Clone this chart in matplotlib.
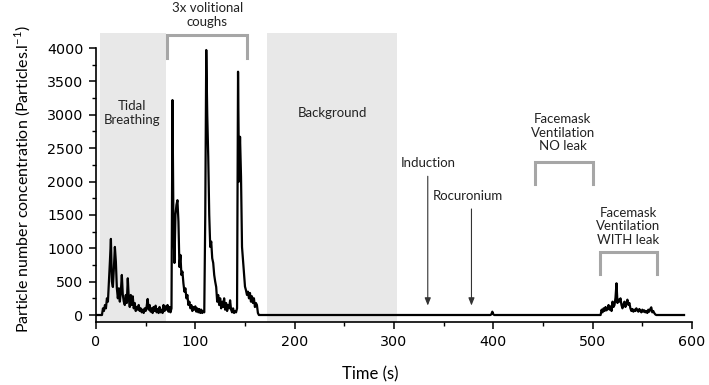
import matplotlib
matplotlib.use("Agg")
import matplotlib.pyplot as plt
from matplotlib.patches import Rectangle
from matplotlib.ticker import MultipleLocator

# ---- data ----
# early phase, sampled every second (0..164 s)
t_early = list(range(0, 165))
c_early = [0, 0, 0, 0, 0, 0, 0, 100, 60, 150,
           100, 250, 200, 500, 800, 1140, 500, 420, 700, 1020,
           800, 400, 250, 400, 200, 350, 600, 300, 200, 150,
           300, 180, 550, 250, 120, 300, 150, 280, 100, 180,
           60, 120, 80, 150, 60, 100, 40, 80, 30, 100,
           60, 130, 240, 80, 150, 50, 100, 30, 120, 60,
           140, 40, 90, 30, 120, 40, 80, 30, 150, 60,
           130, 80, 150, 50, 120, 40, 100, 3220, 1300, 780,
           1500, 1650, 1720, 1400, 720, 900, 600, 650, 475, 350,
           400, 250, 300, 150, 200, 100, 150, 60, 120, 80,
           130, 50, 100, 40, 90, 30, 80, 30, 60, 40,
           1500, 3970, 3000, 2370, 1500, 1020, 1100, 850, 780, 600,
           500, 420, 200, 300, 150, 250, 100, 200, 120, 250,
           80, 180, 60, 150, 100, 220, 80, 40, 100, 30,
           60, 40, 100, 3645, 2000, 2670, 2070, 1020, 820, 600,
           425, 370, 300, 350, 250, 330, 200, 280, 180, 250,
           120, 180, 150, 30, 0]
# later phase (sparse samples)
t_late = [170, 397, 398, 399, 400, 401, 508, 509, 510, 511, 512, 513, 514, 515,
          516, 517, 518, 519, 520, 521, 522, 523, 524, 525, 526, 527, 528, 529,
          530, 531, 532, 533, 534, 535, 536, 537, 538, 539, 540, 541, 542, 543,
          544, 545, 546, 547, 548, 549, 550, 551, 552, 553, 554, 555, 556, 557,
          558, 559, 560, 561, 562, 563, 564, 592]
c_late = [0, 0, 10, 50, 10, 0, 0, 80, 40, 100, 60, 120, 70, 90, 150,
          80, 130, 60, 200, 120, 150, 260, 475, 180, 230, 200, 250, 150, 100,
          160, 200, 120, 180, 230, 150, 180, 100, 60, 90, 50, 80, 60, 100,
          70, 50, 90, 60, 40, 80, 50, 70, 40, 60, 30, 80, 50, 90, 115, 40,
          60, 30, 10, 0, 0]

time = t_early + t_late
conc = c_early + c_late

shade_regions = [(4, 70), (172, 303)]
x_ticks = [0, 100, 200, 300, 400, 500, 600]
y_ticks = [0, 500, 1000, 1500, 2000, 2500, 3000, 3500, 4000]

# ---- figure ----
fig = plt.figure(figsize=(7.09, 3.85), dpi=100)
ax = fig.add_axes([0.1354, 0.1636, 0.8406, 0.7117])

ANN = "Lato"
TICK = "DejaVu Sans"
gray_b = "#a6a6a6"

for x0, x1 in shade_regions:
    ax.add_patch(Rectangle((x0, -105), x1 - x0, 4330, facecolor="#e8e8e8",
                           edgecolor="none", clip_on=False, zorder=0))

ax.plot(time, conc, color="black", lw=1.6, zorder=3)

ax.set_xlim(0, 600)
ax.set_ylim(-105, 4000)
ax.set_xticks(x_ticks)
ax.set_yticks(y_ticks)
ax.xaxis.set_minor_locator(MultipleLocator(50))
ax.yaxis.set_minor_locator(MultipleLocator(250))
ax.spines["top"].set_visible(False)
ax.spines["right"].set_visible(False)
for s in ("left", "bottom"):
    ax.spines[s].set_linewidth(1.2)
ax.tick_params(which="major", direction="out", length=5, width=1.1,
               labelsize=10.3, pad=4)
ax.tick_params(which="minor", direction="out", length=3, width=1.0)
for lab in ax.get_xticklabels() + ax.get_yticklabels():
    lab.set_fontfamily(TICK)

ax.set_xlabel("Time (s)", fontfamily=ANN, fontsize=12, labelpad=6)
ax.xaxis.set_label_coords(0.46, -0.16)
ax.set_ylabel("Particle number concentration (Particles.l$^{\\mathregular{-1}}$)",
              fontfamily=ANN, fontsize=11.5, labelpad=6)
ax.yaxis.set_label_coords(-0.105, 0.52)

def bracket(x0, x1, ytop, ybot):
    ax.plot([x0, x0, x1, x1], [ybot, ytop, ytop, ybot], color=gray_b, lw=2.2,
            clip_on=False, zorder=4, solid_joinstyle="miter")

bracket(71.5, 152, 4195, 3850)
bracket(442, 500, 2292, 1963)
bracket(507.5, 565, 944, 614)

tk = dict(fontfamily=ANN, fontsize=9.5, ha="center", va="center",
          linespacing=1.15, color="#222222")
ax.text(112, 4494, "3x volitional\ncoughs", clip_on=False, **tk)
ax.text(36, 3026, "Tidal\nBreathing", **tk)
ax.text(238, 3026, "Background", **tk)
ax.text(470, 2727, "Facemask\nVentilation\nNO leak", **tk)
ax.text(536, 1333, "Facemask\nVentilation\nWITH leak", **tk)
ax.text(334, 2270, "Induction", **tk)
ax.text(374, 1780, "Rocuronium", **tk)

arr = dict(arrowstyle="-|>,head_length=0.45,head_width=0.18", color="#333333", lw=0.8)
ax.annotate("", xy=(334, 100), xytext=(334, 2120), arrowprops=arr)
ax.annotate("", xy=(378, 100), xytext=(378, 1630), arrowprops=arr)

fig.savefig("out.png", dpi=100)
